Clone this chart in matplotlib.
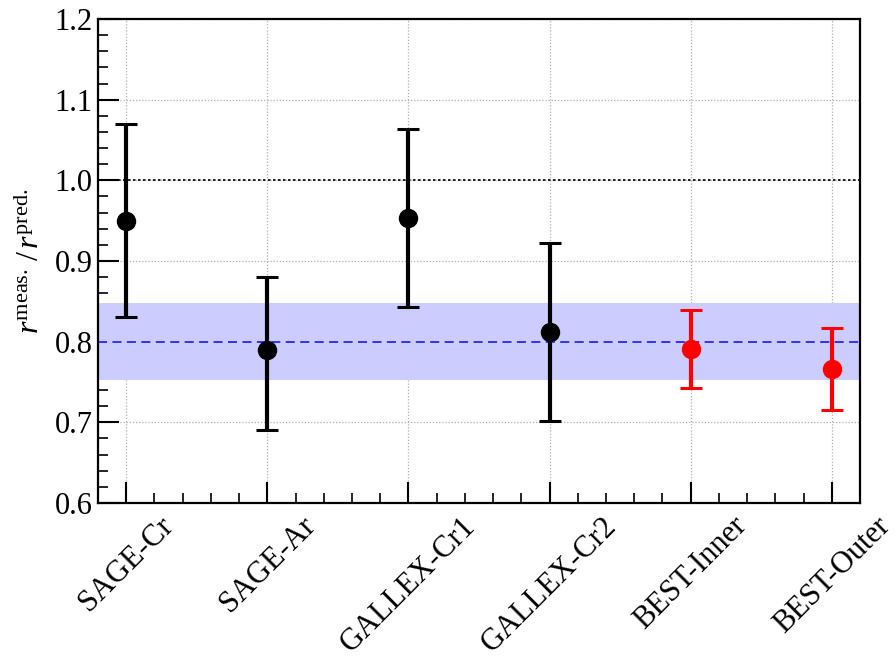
import numpy as np
import matplotlib.pyplot as plt
from matplotlib.ticker import MultipleLocator

labels = ["SAGE-Cr", "SAGE-Ar", "GALLEX-Cr1", "GALLEX-Cr2", "BEST-Inner", "BEST-Outer"]
ratio = [0.950, 0.790, 0.953, 0.812, 0.791, 0.766]
err_lo = [0.120, 0.100, 0.110, 0.110, 0.049, 0.051]
err_hi = [0.120, 0.090, 0.111, 0.110, 0.048, 0.051]
colors = ["black", "black", "black", "black", "red", "red"]

# combined average and its band
avg = 0.80
avg_lo = 0.752
avg_hi = 0.848


def main():
    plt.rcParams['font.family'] = ['Liberation Serif', 'DejaVu Serif']
    plt.rcParams['mathtext.fontset'] = 'custom'
    plt.rcParams['mathtext.rm'] = 'Liberation Serif'
    plt.rcParams['mathtext.it'] = 'Liberation Serif:italic'

    fig = plt.figure(figsize=(8.96, 6.56), dpi=100)
    ax = fig.add_axes([0.1094, 0.2332, 0.8504, 0.7378])

    x = np.arange(len(labels))

    # band and reference lines
    ax.axhspan(avg_lo, avg_hi, color=(0.8, 0.8, 1.0), zorder=1, lw=0)
    ax.axhline(avg, color=(0.15, 0.15, 0.95), ls=(0, (5, 3)), lw=1.3, zorder=2)
    ax.axhline(1.0, color="black", ls=(0, (1.5, 1.5)), lw=1.2, zorder=2)

    for i in range(len(labels)):
        ax.errorbar(x[i], ratio[i], yerr=[[err_lo[i]], [err_hi[i]]],
                    fmt='o', color=colors[i], ms=13, elinewidth=3,
                    capsize=8, capthick=2.2, zorder=5)

    ax.set_xlim(-0.2, 5.2)
    ax.set_ylim(0.6, 1.2)
    ax.set_xticks(x)
    ax.set_xticklabels(labels, rotation=45, ha='center', va='top', fontsize=22)
    ax.xaxis.set_minor_locator(MultipleLocator(0.2))
    ax.yaxis.set_major_locator(MultipleLocator(0.1))
    ax.yaxis.set_minor_locator(MultipleLocator(0.02))
    ax.yaxis.set_major_formatter(plt.FormatStrFormatter('%.1f'))

    ax.tick_params(axis='both', which='both', direction='in', top=False, right=False)
    ax.tick_params(axis='both', which='major', length=15, width=1.5)
    ax.tick_params(axis='both', which='minor', length=7, width=1.2)
    ax.tick_params(axis='y', which='major', labelsize=22, pad=4)
    ax.tick_params(axis='x', which='major', pad=6)

    ax.grid(True, which='major', color='#b0b0b0', ls=(0, (1, 1.5)), lw=0.9, zorder=0)
    ax.set_axisbelow(True)

    for s in ax.spines.values():
        s.set_linewidth(1.6)

    ax.set_ylabel(r"$r^{\rm meas.}\,/\,r^{\rm pred.}$", fontsize=23, labelpad=6)

    fig.savefig("out.png", dpi=100)


if __name__ == "__main__":
    main()
